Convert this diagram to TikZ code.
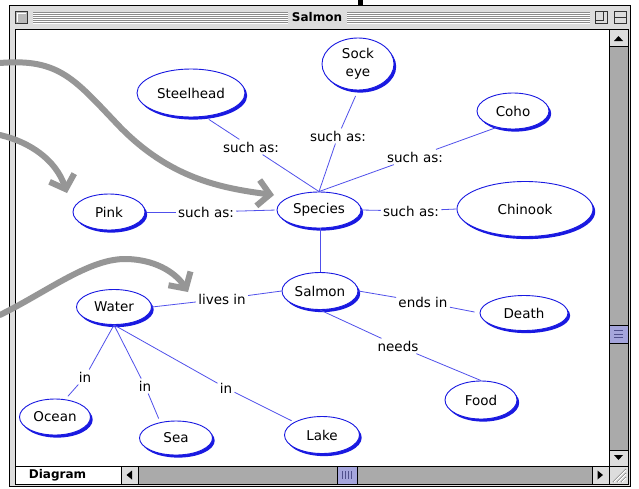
\documentclass[tikz,border=0pt]{standalone}
\usepackage{fontspec}
\setmainfont{DejaVu Sans}
\usetikzlibrary{shapes.geometric,shadows,arrows.meta}
\definecolor{nblue}{RGB}{25,25,225}
\definecolor{lblue}{RGB}{80,80,235}
\definecolor{agray}{RGB}{150,150,150}
\definecolor{wframe}{RGB}{221,221,221}
\definecolor{wtrack}{RGB}{170,170,170}
\definecolor{wthumb}{RGB}{165,165,220}
\definecolor{wthumbln}{RGB}{80,80,140}
\definecolor{wstripe}{RGB}{140,140,140}
\begin{document}
\begin{tikzpicture}[x=1pt,y=-1pt,
  concept/.style={ellipse, draw=nblue, line width=0.9pt, fill=white, inner sep=0pt,
     font=\fontsize{13.5}{18}\selectfont, text=black,
     drop shadow={shadow xshift=2.2pt, shadow yshift=-2.6pt, fill=nblue, opacity=1}},
  lbl/.style={font=\fontsize{13.5}{15}\selectfont, inner sep=2.2pt, text=black},
  link/.style={draw=lblue, line width=0.8pt},
  garrow/.style={draw=agray, line width=6pt, line cap=round,
     -{Straight Barb[length=12pt,width=26pt]}},
  wbtn/.style={fill=wframe, draw=black, line width=0.8pt},
  wlbl/.style={font=\bfseries\fontsize{12}{14}\selectfont, inner sep=0pt, text=black},
]
\useasboundingbox (0,0) rectangle (639,488);
\fill[white] (0,0) rectangle (639,488);
\fill[black] (358,0) rectangle (363,5);
% ---------- window frame ----------
\filldraw[fill=wframe, draw=black, line width=1pt] (9.5,5.5) rectangle (630.5,486.5);
\foreach \yy in {12,14,16,18,20,22} {
  \draw[wstripe, line width=0.9pt] (33,\yy) -- (288,\yy) (347,\yy) -- (590,\yy);
  \draw[white, line width=0.9pt] (33,\yy+1) -- (288,\yy+1) (347,\yy+1) -- (590,\yy+1);
}
\node[wlbl] (ttl) at (317,17.5) {Salmon};
\filldraw[fill=gray!55, draw=black!80, line width=0.8pt] (15.5,11.5) rectangle (27.5,23.5);
\draw[white, line width=0.8pt] (17,22) -- (17,13) -- (26,13);
\filldraw[fill=wframe, draw=black!80, line width=0.8pt] (595.5,11.5) rectangle (607.5,23.5);
\draw[black!80, line width=0.8pt] (595.5,20.5) -- (603.5,20.5) -- (603.5,11.5);
\filldraw[fill=wframe, draw=black!80, line width=0.8pt] (614.5,11.5) rectangle (626.5,23.5);
\draw[black!80, line width=0.8pt] (614.5,17.5) -- (626.5,17.5);
% content area
\filldraw[fill=white, draw=black, line width=1pt] (15.5,29.5) rectangle (628,484);
% vertical scrollbar
\fill[wtrack] (609,46) rectangle (628,450);
\draw[black, line width=1pt] (609,29.5) -- (609,466);
\filldraw[wbtn] (609,29.5) rectangle (628,46);
\fill[black] (614,41) -- (623,41) -- (618.5,36) -- cycle;
\filldraw[wbtn] (609,450) rectangle (628,466);
\fill[black] (614,455) -- (623,455) -- (618.5,460) -- cycle;
\filldraw[fill=wthumb, draw=black, line width=0.8pt] (609,325) rectangle (628,343);
\foreach \yy in {330.5,334,337.5} \draw[wthumbln, line width=0.8pt] (614,\yy) -- (623,\yy);
% horizontal scrollbar
\fill[wtrack] (138,466) rectangle (592,484);
\draw[black, line width=1pt] (15.5,466) -- (628,466);
\node[wlbl] (diag) at (57.5,475.5) {Diagram};
\filldraw[wbtn] (121,466) rectangle (138,484);
\fill[black] (126.5,475) -- (132,470.5) -- (132,479.5) -- cycle;
\filldraw[fill=wthumb, draw=black, line width=0.8pt] (337,466) rectangle (357,484);
\foreach \xx in {342.5,345.5,348.5,351.5} \draw[wthumbln, line width=0.8pt] (\xx,471) -- (\xx,479);
\filldraw[wbtn] (592,466) rectangle (609,484);
\fill[black] (603,475) -- (597.5,470.5) -- (597.5,479.5) -- cycle;
\filldraw[wbtn] (609,466) rectangle (628,484);
\foreach \dd in {0,4,8} {
  \draw[gray, line width=0.8pt] (613+\dd,482) -- (626,469+\dd);
  \draw[white, line width=0.8pt] (614+\dd,482) -- (626,470+\dd);
}
% ---------- concepts ----------
\node[concept, minimum width=108pt, minimum height=48pt] (steel) at (191,93) {Steelhead};
\node[concept, minimum width=72pt, minimum height=52pt, align=center] (sock) at (358,64) {Sock\\eye};
\node[concept, minimum width=72pt, minimum height=36pt] (coho) at (513,111) {Coho};
\node[concept, minimum width=72pt, minimum height=36pt] (pink) at (109,212) {Pink};
\node[concept, minimum width=84pt, minimum height=36pt] (species) at (319,210) {Species};
\node[concept, minimum width=136pt, minimum height=55pt] (chinook) at (525,209) {Chinook};
\node[concept, minimum width=76pt, minimum height=37pt] (salmon) at (320,291) {Salmon};
\node[concept, minimum width=75pt, minimum height=35pt] (water) at (114,307) {Water};
\node[concept, minimum width=88pt, minimum height=35pt] (death) at (524,313) {Death};
\node[concept, minimum width=72pt, minimum height=38pt] (food) at (481,400) {Food};
\node[concept, minimum width=71pt, minimum height=36pt] (ocean) at (55,417) {Ocean};
\node[concept, minimum width=73pt, minimum height=34pt] (sea) at (176,438) {Sea};
\node[concept, minimum width=75pt, minimum height=37pt] (lake) at (322,435) {Lake};
% ---------- link labels ----------
\node[lbl] (l1) at (251,147) {such as:};
\node[lbl] (l2) at (338,136) {such as:};
\node[lbl] (l3) at (415,157) {such as:};
\node[lbl] (l4) at (206,212) {such as:};
\node[lbl] (l5) at (411,211) {such as:};
\node[lbl] (l6) at (222,299) {lives in};
\node[lbl] (l7) at (423,302) {ends in};
\node[lbl] (l8) at (398,346) {needs};
\node[lbl] (i1) at (85,377) {in};
\node[lbl] (i2) at (145,386) {in};
\node[lbl] (i3) at (226,388) {in};
% ---------- connectors ----------
\draw[link, shorten >=5pt] (l1) -- (steel.-60);
\draw[link] (l1) -- (species.north);
\draw[link, shorten >=6pt] (l2) -- (sock.south);
\draw[link] (l2) -- (species.north);
\draw[link] (l3) -- (coho.-135);
\draw[link] (l3) -- (species.north);
\draw[link, shorten >=2pt] (l4) -- (pink.east);
\draw[link, shorten >=2pt] (l4) -- (species.west);
\draw[link] (l5) -- (species.east);
\draw[link] (l5) -- (chinook.west);
\draw[link] (salmon.north |- species.south) -- (salmon.north);
\draw[link] (l6) -- (water.east);
\draw[link] (l6) -- (salmon.west);
\draw[link] (l7) -- (salmon.east);
\draw[link, shorten >=5pt] (l7) -- (death.west);
\draw[link] (l8) -- (salmon.south);
\draw[link] (l8) -- (food.north);
\draw[link] (i1) -- (water.south);
\draw[link, shorten >=4pt] (i1) -- (ocean.60);
\draw[link] (i2) -- (water.south);
\draw[link, shorten >=4pt] (i2) -- (sea.135);
\draw[link] (i3) -- (water.south);
\draw[link, shorten >=3pt] (i3) -- (lake.155);
% ---------- gray pointer arrows ----------
\coordinate (a1s) at (0,63);
\coordinate (a2s) at (0,135);
\coordinate (a3s) at (0,315);
\draw[garrow] (a1s) .. controls (60,58) and (75,80) .. (120,127)
   .. controls (170,178) and (220,188) .. (274,195);
\draw[garrow] (a2s) .. controls (30,142) and (56,160) .. (67,193);
\draw[garrow] (a3s) .. controls (50,290) and (90,258) .. (127,259)
   .. controls (160,260) and (178,276) .. (188,292);
\end{tikzpicture}
\end{document}
